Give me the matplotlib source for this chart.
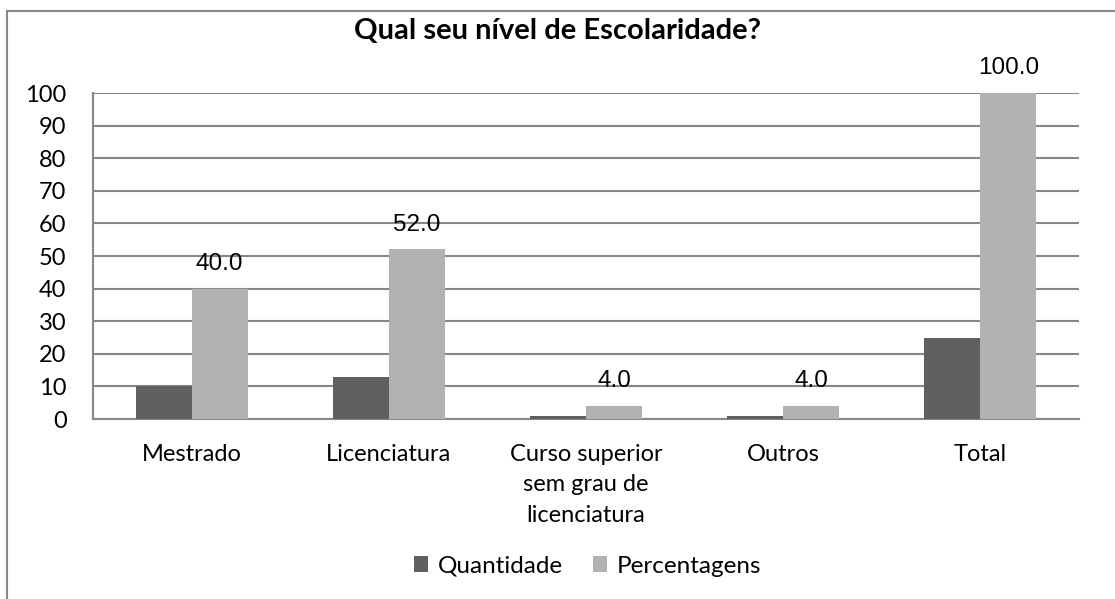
import numpy as np
import matplotlib.pyplot as plt
from matplotlib.lines import Line2D

categorias = ['Mestrado', 'Licenciatura', 'Curso superior\nsem grau de\nlicenciatura', 'Outros', 'Total']
quantidade = [10, 13, 1, 1, 25]
percentagens = [40.0, 52.0, 4.0, 4.0, 100.0]

plt.rcParams['font.family'] = ['Lato', 'DejaVu Sans']

fig = plt.figure(figsize=(11.15, 5.99), dpi=100)
ax = fig.add_axes([0.0834, 0.3005, 0.8843, 0.5442])

x = np.arange(len(categorias))
w = 0.284
ax.bar(x - w / 2, quantidade, w, color='#606060', label='Quantidade', zorder=3)
b2 = ax.bar(x + w / 2, percentagens, w, color='#b2b2b2', label='Percentagens', zorder=3)

for rect, v in zip(b2, percentagens):
    ax.annotate(f'{v:.1f}', (rect.get_x() + rect.get_width() / 2, v),
                xytext=(0, 10), textcoords='offset points', ha='center', va='bottom',
                fontsize=17.5, family='Liberation Sans')

ax.set_xlim(-0.5, 4.5)
ax.set_ylim(0, 100)
ax.set_yticks(range(0, 101, 10))
ax.set_xticks(x)
ax.set_xticklabels(categorias, fontsize=17, linespacing=1.55)
ax.tick_params(axis='y', labelsize=17, length=0, pad=19)
ax.tick_params(axis='x', length=0, pad=18)
ax.grid(axis='y', color='#878787', linewidth=1.5, zorder=0)
for s in ['top', 'right']:
    ax.spines[s].set_visible(False)
for s in ['left', 'bottom']:
    ax.spines[s].set_color('#878787')
    ax.spines[s].set_linewidth(1.5)

fig.text(0.5, 0.948, 'Qual seu nível de Escolaridade?', ha='center', va='center',
         fontsize=21, fontweight='bold')

fig.legend(loc='center', bbox_to_anchor=(0.527, 0.055), ncol=2, frameon=False,
           fontsize=17.5, handlelength=0.6, handleheight=0.6, handletextpad=0.4,
           columnspacing=1.2)

# moldura do gráfico
fig.add_artist(Line2D([7 / 1115, 7 / 1115], [0, 1 - 11 / 599], transform=fig.transFigure,
                      color='#878787', linewidth=1.5))
fig.add_artist(Line2D([7 / 1115, 1], [1 - 11 / 599, 1 - 11 / 599], transform=fig.transFigure,
                      color='#878787', linewidth=1.5))

fig.savefig('out.png', dpi=100)
